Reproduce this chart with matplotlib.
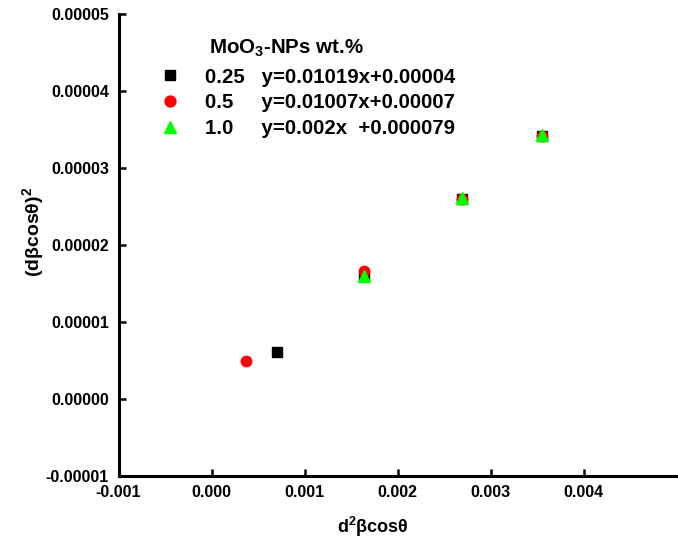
import matplotlib
matplotlib.use('Agg')
import matplotlib.pyplot as plt
from matplotlib.ticker import FormatStrFormatter

# data
x_025 = [0.00070, 0.00164, 0.00269, 0.00355]
y_025 = [0.0000060, 0.0000160, 0.0000260, 0.0000342]
x_05 = [0.00037, 0.00164, 0.00269, 0.00355]
y_05 = [0.0000049, 0.0000166, 0.0000259, 0.0000342]
x_10 = [0.00164, 0.00269, 0.00355]
y_10 = [0.0000160, 0.0000261, 0.0000343]

labels = ['0.25   y=0.01019x+0.00004',
          '0.5     y=0.01007x+0.00007',
          '1.0     y=0.002x  +0.000079']
xticks = [-0.001, 0.000, 0.001, 0.002, 0.003, 0.004]
yticks = [-0.00001, 0.0, 0.00001, 0.00002, 0.00003, 0.00004, 0.00005]

plt.rcParams['font.family'] = 'Liberation Sans'
plt.rcParams['font.weight'] = 'bold'
plt.rcParams['axes.unicode_minus'] = False
plt.rcParams['mathtext.fontset'] = 'custom'
plt.rcParams['mathtext.rm'] = 'Liberation Sans:bold'
plt.rcParams['mathtext.it'] = 'Liberation Sans:bold'
plt.rcParams['mathtext.bf'] = 'Liberation Sans:bold'

fig = plt.figure(figsize=(6.78, 5.46), dpi=100)
ax = fig.add_axes([118.5/678, 1-475.5/546, (676.5-118.5)/678, (475.5-14)/546])

h1, = ax.plot(x_025, y_025, 's', color='black', ms=6.5, ls='none')
h2, = ax.plot(x_05, y_05, 'o', color='red', ms=7.5, ls='none')
h3, = ax.plot(x_10, y_10, '^', color='#00ff00', ms=8, ls='none')

ax.set_xlim(-0.001, 0.005)
ax.set_ylim(-0.00001, 0.00005)
ax.set_xticks(xticks)
ax.set_yticks(yticks)
ax.xaxis.set_major_formatter(FormatStrFormatter('%.3f'))
ax.yaxis.set_major_formatter(FormatStrFormatter('%.5f'))

for s in ['top', 'right']:
    ax.spines[s].set_visible(False)
for s in ['left', 'bottom']:
    ax.spines[s].set_linewidth(2.2)
ax.tick_params(direction='in', length=5, width=1.8, labelsize=11.5, pad=7)

ax.set_xlabel(r'd$^2$βcosθ', fontsize=13, fontweight='bold')
ax.set_ylabel(r'(dβcosθ)$^2$', fontsize=14, fontweight='bold')
ax.xaxis.set_label_coords(0.456, -0.111)
ax.xaxis.label.set_va('center')
ax.yaxis.set_label_coords(-0.154, 0.527)
ax.yaxis.label.set_va('center')

ax.text(0.163, 0.926, r'MoO$_3$-NPs wt.%', transform=ax.transAxes,
        fontsize=14.8, fontweight='bold', va='center', ha='left')
leg = ax.legend([h1, h2, h3], labels, loc='upper left', bbox_to_anchor=(0.074, 0.884),
                frameon=False, borderpad=0, borderaxespad=0, handlelength=1,
                handletextpad=1.22, labelspacing=0.33, prop={'size': 14.7, 'weight': 'bold'},
                markerscale=1.05)

fig.savefig('out.png', dpi=100)
